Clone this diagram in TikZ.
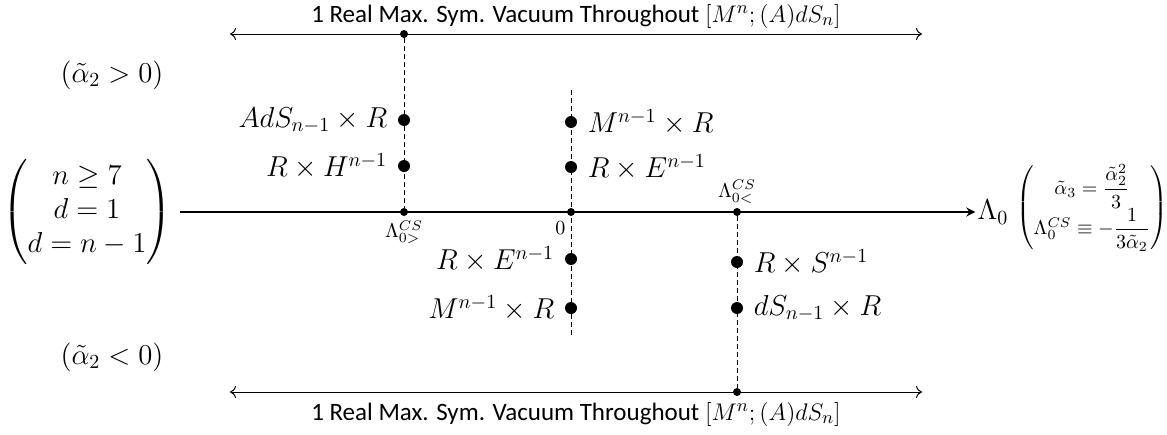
\documentclass[tikz,border=0pt]{standalone}
\usepackage{amsmath}
\usepackage{amssymb}
\usepackage{fontspec}
\setmainfont{Carlito}
\usetikzlibrary{positioning}
\usetikzlibrary{arrows.meta}

\begin{document}
\begin{tikzpicture}[
    x=0.5pt, y=-0.5pt,
    node distance=4pt and 4pt,
    space/.style={font=\fontsize{14.5}{17}\selectfont, inner sep=1pt},
    cslabel/.style={font=\fontsize{10}{12}\selectfont, inner sep=1pt},
    vactext/.style={font=\fontsize{12.5}{15}\selectfont, inner sep=0pt},
    bigdot/.style={circle, fill, inner sep=0pt, minimum size=6pt},
    axdot/.style={circle, fill, inner sep=0pt, minimum size=4pt},
    guide/.style={dash pattern=on 2.5pt off 1.5pt, line width=0.5pt},
    vacuum/.style={{To[length=3pt,width=6pt]}-{To[length=3pt,width=6pt]}, line width=0.5pt},
    axis/.style={->, >=stealth, line width=1pt}
]
  \useasboundingbox (0,0) rectangle (1167,434);

  % Main axis
  \node (cond) [space, inner sep=0pt] at (87,212) {$\begin{pmatrix} n\geq 7\\ d=1\\ d=n-1\end{pmatrix}$};
  \node (lam) [space, inner sep=1pt] at (993,212) {$\Lambda_0$};
  \node (rel) [font=\fontsize{10}{12}\selectfont, inner sep=0pt] at (1092,208) {$\begin{pmatrix} \tilde{\alpha}_3=\dfrac{\tilde{\alpha}_2^2}{3}\\[2pt] \Lambda_0^{CS}\equiv-\dfrac{1}{3\tilde{\alpha}_2}\end{pmatrix}$};
  \draw [axis, shorten <=4pt] (cond) -- (lam);

  % Vacuum arrows
  \coordinate (topL) at (230,34);
  \coordinate (topR) at (922,34);
  \coordinate (botL) at (230,392);
  \coordinate (botR) at (922,392);
  \draw [vacuum] (topL) -- (topR);
  \draw [vacuum] (botL) -- (botR);
  \node (toptext) [vactext] at (576,16) {1 Real Max. Sym. Vacuum Throughout $[M^n;(A)dS_n]$};
  \node (bottext) [vactext] at (576,414) {1 Real Max. Sym. Vacuum Throughout $[M^n;(A)dS_n]$};

  % Sign labels
  \node (apos) [space] at (112,75) {$(\tilde{\alpha}_2>0)$};
  \node (aneg) [space] at (112,357) {$(\tilde{\alpha}_2<0)$};

  % Dashed guides
  \node (topdot) [axdot] at (404,34) {};
  \node (lgt) [axdot] at (404,212) {};
  \coordinate (zt) at (571,90);
  \coordinate (zb) at (571,338);
  \node (zero) [axdot] at (571,212) {};
  \node (llt) [axdot] at (737,212) {};
  \node (botdot) [axdot] at (737,392) {};
  \draw [guide] (topdot) -- (lgt);
  \draw [guide] (zt) -- (zb);
  \draw [guide] (llt) -- (botdot);

  % Axis labels
  \node [cslabel, below=1pt of lgt] {$\Lambda_{0>}^{CS}$};
  \node [cslabel, below left=2pt and 0pt of zero] {$0$};
  \node [cslabel, above=1pt of llt] {$\Lambda_{0<}^{CS}$};

  % Spaces, left column
  \node (ads) [bigdot] at (404,120) {};
  \node (rh) [bigdot] at (404,166) {};
  \node [space, left=4pt of ads] {$AdS_{n-1}\times R$};
  \node [space, left=4pt of rh] {$R\times H^{n-1}$};

  % Spaces, middle column
  \node (mr1) [bigdot] at (571,122) {};
  \node (re1) [bigdot] at (571,167) {};
  \node (re2) [bigdot] at (571,259) {};
  \node (mr2) [bigdot] at (571,308) {};
  \node [space, right=4pt of mr1] {$M^{n-1}\times R$};
  \node [space, right=4pt of re1] {$R\times E^{n-1}$};
  \node [space, left=4pt of re2] {$R\times E^{n-1}$};
  \node [space, left=4pt of mr2] {$M^{n-1}\times R$};

  % Spaces, right column
  \node (rs) [bigdot] at (737,262) {};
  \node (ds) [bigdot] at (737,308) {};
  \node [space, right=4pt of rs] {$R\times S^{n-1}$};
  \node [space, right=4pt of ds] {$dS_{n-1}\times R$};
\end{tikzpicture}
\end{document}
